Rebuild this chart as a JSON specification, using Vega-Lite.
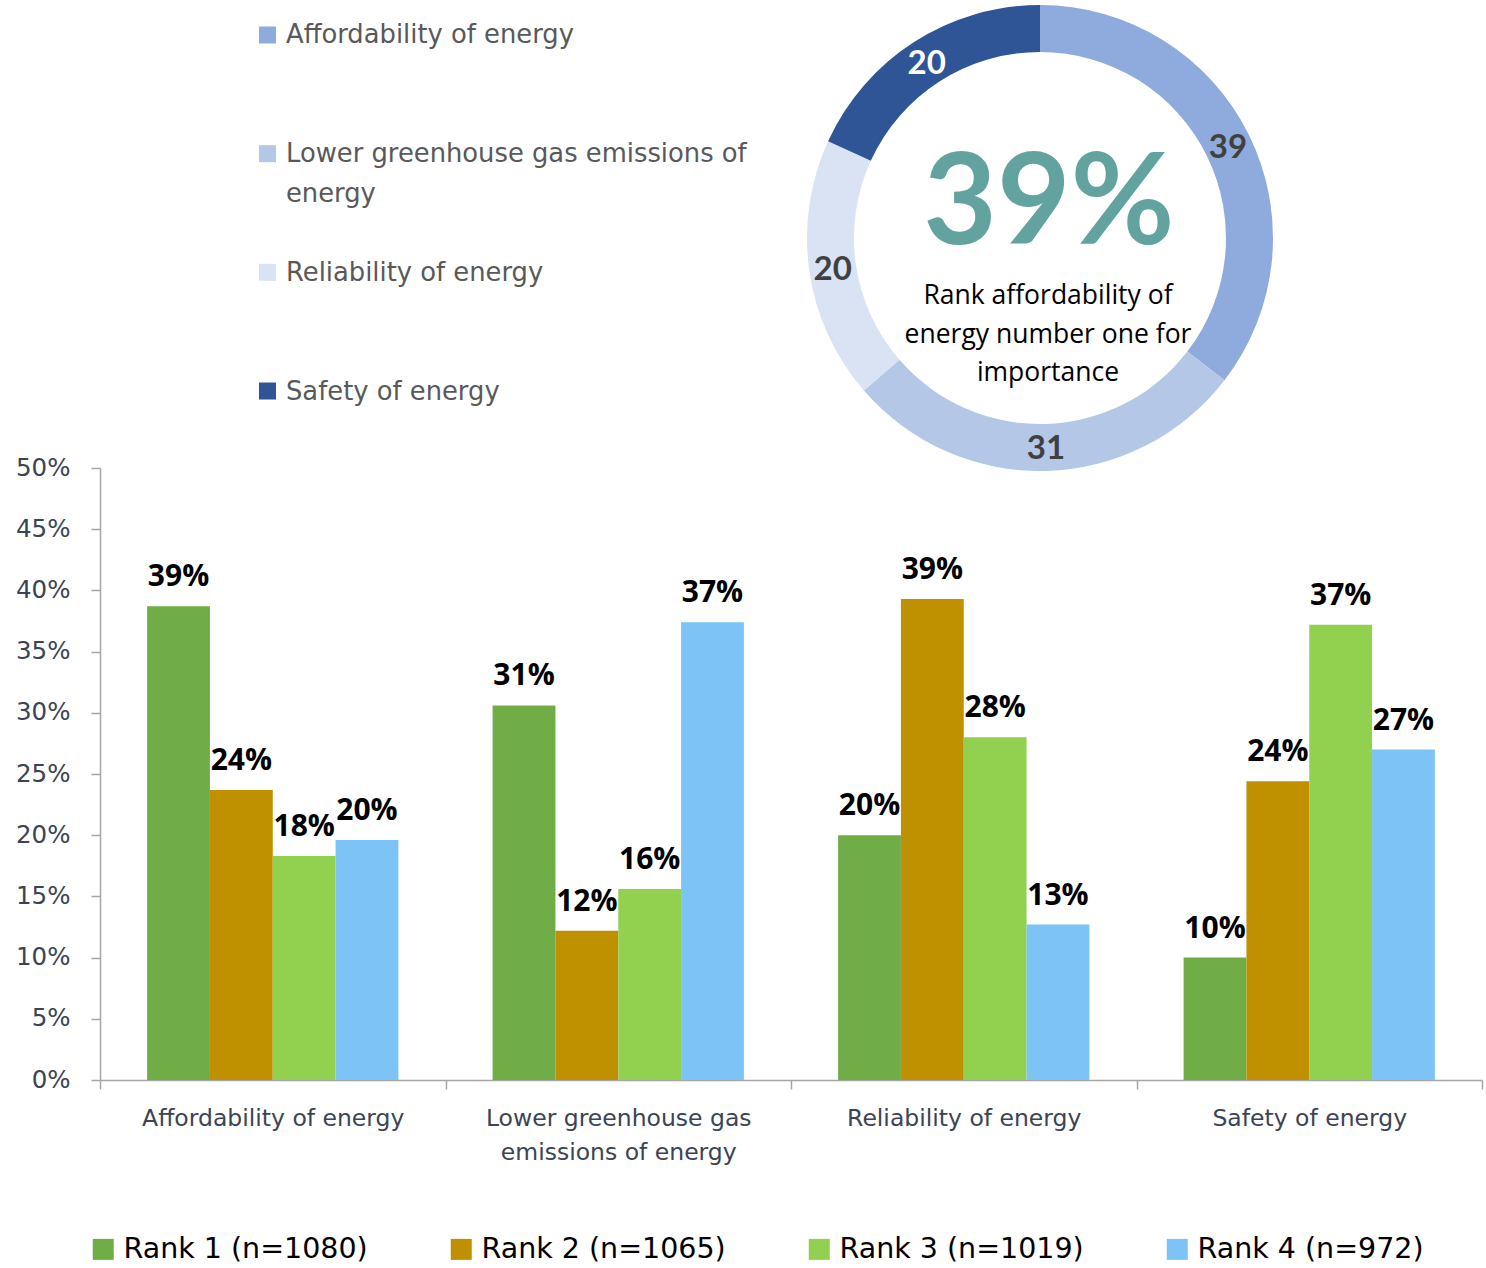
{
  "$schema": "https://vega.github.io/schema/vega-lite/v6.json",
  "background": "white",
  "padding": {"left": 15, "top": 5, "right": 4, "bottom": 5},
  "config": {"view": {"stroke": null}},
  "datasets": {
    "donut": [
      {"category": "Affordability of energy", "value": 39},
      {"category": "Lower greenhouse gas emissions of energy", "value": 31},
      {"category": "Reliability of energy", "value": 20},
      {"category": "Safety of energy", "value": 20}
    ],
    "bars": [
      {"factor": "Affordability of energy", "rank": "Rank 1 (n=1080)", "share": 0.387},
      {"factor": "Affordability of energy", "rank": "Rank 2 (n=1065)", "share": 0.237},
      {"factor": "Affordability of energy", "rank": "Rank 3 (n=1019)", "share": 0.183},
      {"factor": "Affordability of energy", "rank": "Rank 4 (n=972)", "share": 0.196},
      {"factor": "Lower greenhouse gas emissions of energy", "rank": "Rank 1 (n=1080)", "share": 0.306},
      {"factor": "Lower greenhouse gas emissions of energy", "rank": "Rank 2 (n=1065)", "share": 0.122},
      {"factor": "Lower greenhouse gas emissions of energy", "rank": "Rank 3 (n=1019)", "share": 0.156},
      {"factor": "Lower greenhouse gas emissions of energy", "rank": "Rank 4 (n=972)", "share": 0.374},
      {"factor": "Reliability of energy", "rank": "Rank 1 (n=1080)", "share": 0.200},
      {"factor": "Reliability of energy", "rank": "Rank 2 (n=1065)", "share": 0.393},
      {"factor": "Reliability of energy", "rank": "Rank 3 (n=1019)", "share": 0.280},
      {"factor": "Reliability of energy", "rank": "Rank 4 (n=972)", "share": 0.127},
      {"factor": "Safety of energy", "rank": "Rank 1 (n=1080)", "share": 0.100},
      {"factor": "Safety of energy", "rank": "Rank 2 (n=1065)", "share": 0.244},
      {"factor": "Safety of energy", "rank": "Rank 3 (n=1019)", "share": 0.372},
      {"factor": "Safety of energy", "rank": "Rank 4 (n=972)", "share": 0.270}
    ]
  },
  "bounds": "flush",
  "spacing": 463,
  "resolve": {"scale": {"color": "independent"}, "legend": {"color": "independent"}},
  "vconcat": [
    {
      "bounds": "flush",
      "spacing": 372,
      "hconcat": [
        {
          "width": 335,
          "height": 416,
          "data": {"name": "donut"},
          "encoding": {
            "y": {"field": "category", "type": "nominal", "sort": null, "scale": {"type": "point", "padding": 0.2527}, "axis": null}
          },
          "layer": [
            {
              "mark": {"type": "point", "shape": "square", "filled": true, "size": 289, "opacity": 1, "strokeWidth": 0},
              "encoding": {
                "color": {"field": "category", "type": "nominal", "sort": null,
                  "scale": {"domain": ["Affordability of energy", "Lower greenhouse gas emissions of energy", "Reliability of energy", "Safety of energy"], "range": ["#8FAADC", "#B4C7E7", "#DAE3F3", "#2F5597"]},
                  "legend": null}
              }
            },
            {
              "mark": {"type": "text", "align": "left", "baseline": "top", "dx": 18.5, "dy": -11.5, "font": "DejaVu Sans", "fontSize": 25.8, "color": "#595959", "lineHeight": 39.5},
              "encoding": {
                "text": {"condition": {"test": "datum.category === 'Lower greenhouse gas emissions of energy'", "value": ["Lower greenhouse gas emissions of", "energy"]}, "field": "category", "type": "nominal"}
              }
            }
          ]
        },
        {
          "width": 466,
          "height": 466,
          "data": {"name": "donut"},
          "layer": [
            {
              "mark": {"type": "arc", "outerRadius": 233, "innerRadius": 186},
              "encoding": {
                "theta": {"field": "value", "type": "quantitative", "stack": true},
                "order": {"field": "category", "type": "nominal", "sort": "ascending"},
                "color": {"field": "category", "type": "nominal", "sort": null,
                  "scale": {"domain": ["Affordability of energy", "Lower greenhouse gas emissions of energy", "Reliability of energy", "Safety of energy"], "range": ["#8FAADC", "#B4C7E7", "#DAE3F3", "#2F5597"]},
                  "legend": null}
              }
            },
            {
              "mark": {"type": "text", "radius": 209.5, "font": "Lato", "fontWeight": "bold", "fontSize": 33, "align": "center", "baseline": "middle", "dy": 2},
              "encoding": {
                "theta": {"field": "value", "type": "quantitative", "stack": true},
                "order": {"field": "category", "type": "nominal", "sort": "ascending"},
                "detail": {"field": "category", "type": "nominal"},
                "text": {"field": "value", "type": "quantitative"},
                "color": {"condition": {"test": "datum.category === 'Safety of energy'", "value": "#FFFFFF"}, "value": "#404040"}
              }
            },
            {
              "transform": [{"filter": "datum.category === 'Affordability of energy'"}],
              "mark": {"type": "text", "text": "39%", "font": "Lato", "fontWeight": "bold", "fontSize": 127, "color": "#62A39F", "align": "center", "baseline": "alphabetic", "dx": 9, "dy": 6}
            },
            {
              "transform": [{"filter": "datum.category === 'Affordability of energy'"}],
              "mark": {"type": "text", "text": ["Rank affordability of", "energy number one for", "importance"], "font": "Open Sans", "fontSize": 26.5, "color": "#000000", "align": "center", "baseline": "alphabetic", "lineHeight": 38.5, "dx": 8, "dy": 66}
            }
          ]
        }
      ]
    },
    {
      "width": 1382,
      "height": 612,
      "data": {"name": "bars"},
      "encoding": {
        "x": {"field": "factor", "type": "nominal", "sort": null,
          "scale": {"paddingInner": 0, "paddingOuter": 0},
          "axis": {"title": null, "labelAngle": 0, "domainColor": "#A6A6A6", "domainWidth": 1.5, "tickColor": "#A6A6A6", "tickWidth": 1.5, "tickSize": 9, "tickBand": "extent",
            "labelFont": "DejaVu Sans", "labelFontSize": 23.5, "labelColor": "#3B4454", "labelPadding": 17, "labelLineHeight": 34, "labelLimit": 500, "labelBaseline": "top",
            "labelExpr": "datum.label === 'Lower greenhouse gas emissions of energy' ? ['Lower greenhouse gas', 'emissions of energy'] : datum.label"}
        },
        "xOffset": {"field": "rank", "type": "nominal", "sort": null, "scale": {"paddingInner": 0, "paddingOuter": 0.75}},
        "y": {"field": "share", "type": "quantitative",
          "scale": {"domain": [0, 0.5]},
          "axis": {"title": null, "values": [0, 0.05, 0.1, 0.15, 0.2, 0.25, 0.3, 0.35, 0.4, 0.45, 0.5], "format": ".0%", "grid": false,
            "domainColor": "#A6A6A6", "domainWidth": 1.5, "tickColor": "#A6A6A6", "tickWidth": 1.5, "tickSize": 9,
            "labelFont": "DejaVu Sans", "labelFontSize": 24.5, "labelColor": "#3B4454", "labelPadding": 21}
        }
      },
      "layer": [
        {
          "mark": {"type": "bar"},
          "encoding": {
            "color": {"field": "rank", "type": "nominal", "sort": null,
              "scale": {"domain": ["Rank 1 (n=1080)", "Rank 2 (n=1065)", "Rank 3 (n=1019)", "Rank 4 (n=972)"], "range": ["#70AD47", "#BF9000", "#92D050", "#7DC3F5"]},
              "legend": {"title": null, "orient": "none", "legendX": -11, "legendY": 767, "direction": "horizontal", "columns": 4, "gridAlign": "all", "columnPadding": 79,
                "symbolType": "square", "symbolSize": 441, "symbolStrokeWidth": 0, "symbolOpacity": 1,
                "labelFont": "DejaVu Sans", "labelFontSize": 28.5, "labelColor": "#000000", "labelOffset": 6, "labelLimit": 0, "padding": 0}
            }
          }
        },
        {
          "mark": {"type": "text", "baseline": "bottom", "align": "center", "dy": -14, "font": "Open Sans", "fontWeight": "bold", "fontSize": 30, "color": "#000000"},
          "encoding": {
            "text": {"field": "share", "type": "quantitative", "format": ".0%"}
          }
        }
      ]
    }
  ]
}
